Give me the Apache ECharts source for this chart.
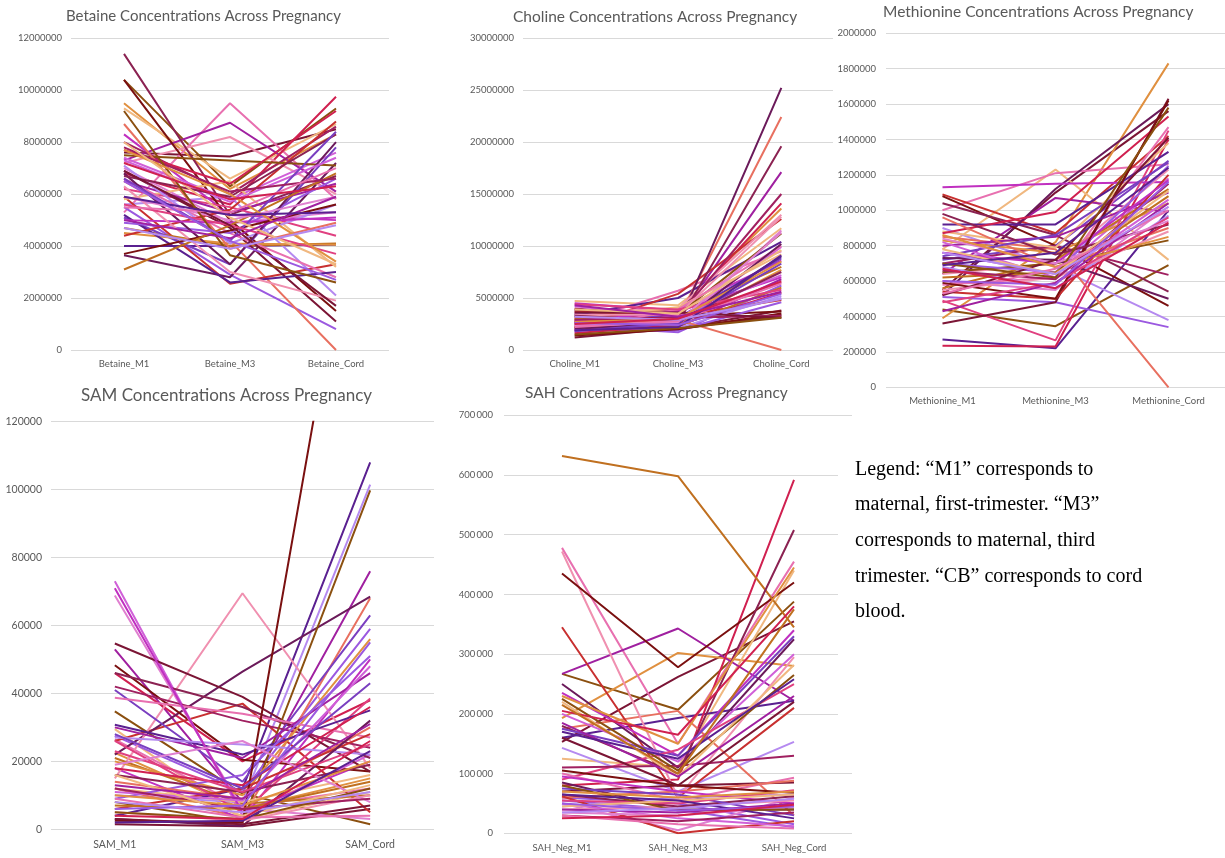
<!DOCTYPE html>
<html><head><meta charset="utf-8">
<script src="https://cdn.jsdelivr.net/npm/echarts@6/dist/echarts.min.js"></script>
<style>html,body{margin:0;padding:0;background:#fff}#c{width:1225px;height:858px}</style>
</head><body><div id="c"></div>
<script>
// line colours, row r of every panel uses palette[r % palette.length]
const palette = ['#7B1535','#8B5010','#E09040','#F0B880','#E870B0','#A020A0','#5A2090','#9B59E0','#B58AF0','#D02050','#E87060','#C83030','#6B1A5A','#C030C0','#F090B0','#7A1010','#D060D8','#C07020','#8B2252','#7A3FC0','#E04080','#E080D0','#A02060'];

const betaineCategories = ['Betaine_M1','Betaine_M3','Betaine_Cord'];
const betaineValues = [
[7.6e6,7.45e6,8.5e6],[10.4e6,6.3e6,9.3e6],[9.5e6,6.2e6,8.3e6],[9.3e6,6.6e6,8.7e6],[5.3e6,9.5e6,5.8e6],
[7.3e6,8.75e6,6.1e6],[4.0e6,4.0e6,4.05e6],[5.5e6,2.9e6,0.8e6],[5.6e6,5.9e6,2.1e6],[6.8e6,5.6e6,9.75e6],
[6.5e6,4.2e6,0],[5.9e6,2.55e6,3.3e6],[3.65e6,2.8e6,7.2e6],[8.3e6,5.2e6,5.0e6],[7.2e6,8.2e6,6.0e6],
[10.4e6,5.0e6,1.5e6],[7.4e6,5.8e6,7.6e6],[4.7e6,4.0e6,4.1e6],[11.4e6,5.2e6,6.7e6],[5.1e6,3.3e6,7.8e6],
[6.2e6,5.5e6,4.4e6],[7.0e6,4.9e6,5.3e6],[8.0e6,6.0e6,8.6e6],[6.9e6,4.7e6,1.1e6],[7.5e6,7.3e6,7.1e6],
[4.5e6,4.1e6,4.05e6],[5.8e6,6.5e6,3.2e6],[6.6e6,4.5e6,2.8e6],[6.5e6,5.3e6,6.4e6],[5.2e6,2.6e6,3.0e6],
[4.9e6,4.5e6,6.6e6],[7.1e6,4.1e6,5.6e6],[7.7e6,6.4e6,9.2e6],[8.7e6,3.9e6,4.9e6],[4.4e6,5.4e6,8.8e6],
[6.8e6,3.3e6,8.0e6],[5.0e6,4.9e6,5.1e6],[6.3e6,3.0e6,1.9e6],[3.7e6,4.6e6,5.6e6],[7.3e6,5.7e6,7.4e6],
[3.1e6,4.8e6,6.8e6],[6.7e6,5.9e6,8.3e6],[6.6e6,4.2e6,8.4e6],[5.6e6,4.8e6,3.7e6],[5.9e6,5.0e6,5.9e6],
[7.8e6,6.1e6,6.6e6],[6.9e6,4.8e6,1.7e6],[9.2e6,3.65e6,2.6e6],[7.7e6,6.0e6,3.4e6],[8.0e6,5.1e6,3.3e6],
[5.5e6,5.3e6,7.0e6],[5.0e6,4.3e6,5.9e6],[5.9e6,5.2e6,5.3e6],[6.5e6,4.2e6,2.7e6],[4.7e6,3.9e6,4.8e6],
[7.2e6,5.8e6,6.3e6]
];

const cholineCategories = ['Choline_M1','Choline_M3','Choline_Cord'];
const cholineValues = [
[1.2e6,2.1e6,3.8e6],[2.8e6,2.2e6,3.2e6],[3.3e6,3.9e6,13.6e6],[4.7e6,4.3e6,11.7e6],[2.6e6,5.7e6,9.5e6],
[3.5e6,3.0e6,17.1e6],[3.4e6,5.0e6,10.4e6],[2.3e6,1.7e6,6.2e6],[2.0e6,2.5e6,5.0e6],[3.0e6,3.5e6,14.1e6],
[1.9e6,3.0e6,22.4e6],[2.1e6,5.4e6,12.6e6],[2.2e6,2.4e6,25.2e6],[4.5e6,3.8e6,8.6e6],[3.6e6,4.0e6,13.0e6],
[2.5e6,3.3e6,3.7e6],[1.8e6,2.8e6,9.9e6],[2.9e6,3.6e6,8.0e6],[2.0e6,2.6e6,19.6e6],[3.8e6,3.1e6,8.8e6],
[2.4e6,2.9e6,6.5e6],[1.7e6,2.3e6,11.5e6],[4.0e6,3.2e6,15.0e6],[2.7e6,2.0e6,3.4e6],[3.9e6,3.4e6,11.2e6],
[2.2e6,2.5e6,7.7e6],[3.1e6,4.1e6,9.2e6],[2.0e6,3.9e6,10.0e6],[2.6e6,2.2e6,6.8e6],[3.2e6,2.7e6,9.0e6],
[1.9e6,1.9e6,4.6e6],[2.5e6,2.1e6,5.2e6],[1.6e6,2.4e6,5.5e6],[2.3e6,2.9e6,0],[3.7e6,3.3e6,4.8e6],
[2.1e6,2.5e6,10.2e6],[2.8e6,3.7e6,7.0e6],[3.4e6,3.4e6,12.8e6],[1.4e6,2.0e6,3.5e6],[4.2e6,3.2e6,7.2e6],
[3.0e6,2.3e6,6.0e6],[3.3e6,2.8e6,7.5e6],[1.8e6,2.6e6,8.3e6],[4.4e6,3.9e6,5.8e6],[2.4e6,2.7e6,11.3e6],
[2.9e6,3.1e6,3.3e6],[3.6e6,3.6e6,3.1e6],[1.5e6,2.1e6,3.1e6],[2.7e6,3.0e6,8.5e6],[3.9e6,3.5e6,9.6e6],
[2.2e6,2.8e6,6.4e6],[4.3e6,3.2e6,5.6e6],[1.9e6,2.2e6,9.1e6],[2.6e6,2.4e6,5.4e6],[3.2e6,2.9e6,4.9e6],
[2.5e6,3.0e6,6.6e6]
];

const methionineCategories = ['Methionine_M1','Methionine_M3','Methionine_Cord'];
const methionineValues = [
[550e3,1100e3,1560e3],[440e3,345e3,690e3],[390e3,820e3,1830e3],[780e3,1230e3,720e3],[1000e3,1210e3,1260e3],
[640e3,1070e3,990e3],[270e3,220e3,1000e3],[510e3,480e3,340e3],[900e3,680e3,380e3],[235e3,230e3,1400e3],
[850e3,780e3,0],[1090e3,870e3,1420e3],[520e3,1120e3,1600e3],[1130e3,1150e3,1160e3],[640e3,700e3,1230e3],
[1080e3,800e3,460e3],[760e3,640e3,1180e3],[560e3,720e3,1120e3],[1040e3,860e3,540e3],[720e3,800e3,1280e3],
[490e3,265e3,1450e3],[600e3,550e3,1020e3],[700e3,800e3,635e3],[360e3,480e3,1630e3],[650e3,700e3,830e3],
[830e3,760e3,1040e3],[880e3,790e3,1380e3],[580e3,620e3,1470e3],[800e3,850e3,1100e3],[920e3,920e3,1330e3],
[700e3,650e3,1250e3],[680e3,560e3,970e3],[870e3,990e3,1530e3],[960e3,680e3,900e3],[540e3,500e3,1200e3],
[730e3,720e3,500e3],[760e3,700e3,1170e3],[550e3,620e3,880e3],[590e3,500e3,1620e3],[820e3,620e3,1060e3],
[620e3,650e3,1080e3],[980e3,750e3,920e3],[740e3,860e3,1270e3],[480e3,590e3,960e3],[840e3,700e3,940e3],
[660e3,610e3,1150e3],[520e3,720e3,1410e3],[700e3,620e3,1580e3],[860e3,680e3,850e3],[780e3,640e3,1110e3],
[530e3,670e3,1000e3],[430e3,590e3,1040e3],[690e3,760e3,1240e3],[600e3,580e3,1160e3],[760e3,640e3,1020e3],
[670e3,560e3,930e3]
];

const samCategories = ['SAM_M1','SAM_M3','SAM_Cord'];
const samValues = [
[1500,900,6000],[34700,10500,1500],[22500,6000,15000],[29500,3000,11000],[26500,6500,12000],
[53000,8000,76000],[4000,12000,108000],[27500,11000,59000],[10000,8000,101500],[46000,20000,38000],
[12000,3500,68000],[26000,37000,5000],[22000,46400,68500],[18000,3000,50000],[15000,69500,18000],
[48300,20500,17000],[73000,4000,22000],[21000,7500,10000],[46000,36000,21000],[41000,14000,63000],
[26000,5000,38500],[68800,6000,3000],[42000,32000,24000],[54700,39000,17000],[8000,2000,99800],
[20000,10000,56000],[12000,8000,16000],[38700,34000,27000],[30000,21000,46000],[30800,22000,35000],
[9000,16000,51000],[27000,25000,22000],[18000,13000,36000],[14000,9000,30000],[6000,12000,28000],
[3000,1000,32000],[71000,5000,20000],[5000,2500,10000],[2500,2000,215000],[11000,8500,48000],
[7000,6000,14000],[16000,11000,19000],[28000,12000,43000],[23000,11000,25000],[19000,26000,8000],
[12000,6000,9000],[3000,1500,7000],[5000,3000,12000],[10000,7000,20000],[16000,4000,13000],
[9000,3500,4000],[13000,9000,31000],[2000,2500,23000],[6000,7000,55000],[8000,5000,11000],
[4000,3000,26000]
];

const sahCategories = ['SAH_Neg_M1','SAH_Neg_M3','SAH_Neg_Cord'];
const sahValues = [
[153000,262000,355000],[267000,207000,388000],[193000,302000,280000],[125000,110000,440000],[478000,150000,455000],
[267000,343000,222000],[160000,193000,222000],[60000,50000,15000],[143000,70000,153000],[80000,90000,592000],
[175000,205000,30000],[345000,60000,210000],[250000,110000,325000],[235000,130000,340000],[472000,60000,295000],
[435000,278000,420000],[200000,120000,300000],[632000,598000,345000],[180000,100000,508000],[175000,130000,330000],
[90000,140000,250000],[50000,5000,60000],[110000,113000,130000],[70000,80000,85000],[225000,105000,265000],
[230000,150000,445000],[220000,95000,282000],[100000,55000,93000],[185000,95000,230000],[170000,125000,258000],
[55000,40000,10000],[45000,60000,65000],[205000,165000,380000],[60000,70000,88000],[62000,0,20000],
[85000,40000,40000],[95000,70000,50000],[40000,45000,55000],[105000,80000,68000],[50000,25000,12000],
[215000,100000,375000],[65000,45000,62000],[75000,65000,30000],[55000,50000,72000],[35000,30000,45000],
[30000,20000,35000],[160000,80000,220000],[80000,38000,40000],[70000,60000,70000],[45000,55000,65000],
[30000,15000,8000],[40000,35000,50000],[65000,55000,25000],[50000,38000,45000],[35000,42000,58000],
[25000,30000,48000]
];

const legendLines = ['Legend: \u201CM1\u201D corresponds to','maternal, first-trimester. \u201CM3\u201D','corresponds to maternal, third','trimester. \u201CCB\u201D corresponds to cord','blood.'];

const FONT = 'Lato, "Noto Sans", sans-serif';
const TXT = '#595959';
const plain = v => String(v);
const spaced = v => { const s = String(v); return s.length > 3 ? s.slice(0, -3) + '\u2009' + s.slice(-3) : s; };

const panels = [
  {title:'Betaine Concentrations Across Pregnancy', cats:betaineCategories, rows:betaineValues, max:12000000, interval:2000000,
   grid:{left:71,top:38.3,width:318,height:311.7}, tpos:{left:66,top:8.5}, tsize:15, lsize:9.5, xm:9, ym:9, fmt:plain},
  {title:'Choline Concentrations Across Pregnancy', cats:cholineCategories, rows:cholineValues, max:30000000, interval:5000000,
   grid:{left:523,top:38,width:310,height:312}, tpos:{left:513,top:8.5}, tsize:15.5, lsize:9.5, xm:9, ym:9, fmt:plain},
  {title:'Methionine Concentrations Across Pregnancy', cats:methionineCategories, rows:methionineValues, max:2000000, interval:200000,
   grid:{left:886,top:33.3,width:343,height:354}, tpos:{left:883,top:3.5}, tsize:15.5, lsize:9.5, xm:9, ym:10, fmt:plain},
  {title:'SAM Concentrations Across Pregnancy', cats:samCategories, rows:samValues, max:120000, interval:20000,
   grid:{left:51,top:421.7,width:383,height:407.6}, tpos:{left:81,top:387.5}, tsize:17, lsize:10.5, xm:10, ym:9, fmt:plain},
  {title:'SAH Concentrations Across Pregnancy', cats:sahCategories, rows:sahValues, max:700000, interval:100000,
   grid:{left:504,top:415.3,width:348,height:418}, tpos:{left:525,top:385}, tsize:15.5, lsize:9.5, xm:10, ym:11, fmt:spaced}
];

const option = {animation:false, backgroundColor:'#fff', title:[], grid:[], xAxis:[], yAxis:[], series:[], graphic:[]};
panels.forEach((p, i) => {
  option.title.push({text:p.title, left:p.tpos.left, top:p.tpos.top, padding:0, textStyle:{color:TXT, fontFamily:FONT, fontWeight:'normal', fontSize:p.tsize}});
  option.grid.push(Object.assign({containLabel:false}, p.grid));
  option.xAxis.push({type:'category', gridIndex:i, data:p.cats, boundaryGap:true,
    axisLine:{show:false}, axisTick:{show:false}, splitLine:{show:false},
    axisLabel:{color:TXT, fontFamily:FONT, fontSize:p.lsize, margin:p.xm, interval:0}});
  option.yAxis.push({type:'value', gridIndex:i, min:0, max:p.max, interval:p.interval,
    axisLine:{show:false}, axisTick:{show:false},
    splitLine:{lineStyle:{color:'#d9d9d9', width:1}},
    axisLabel:{color:TXT, fontFamily:FONT, fontSize:p.lsize, margin:p.ym, formatter:p.fmt}});
  p.rows.forEach((r, j) => {
    option.series.push({type:'line', xAxisIndex:i, yAxisIndex:i, data:r, showSymbol:false, silent:true, clip:true,
      color:palette[j % palette.length], lineStyle:{width:2, color:palette[j % palette.length]}});
  });
});

option.graphic.push({type:'rect', left:838, top:436, shape:{width:387, height:306}, style:{fill:'#fff'}, z:100});
legendLines.forEach((t, k) => {
  option.graphic.push({type:'text', left:855, top:459.5 + k*35.6, z:101,
    style:{text:t, fill:'#000', font:'20px "Liberation Serif", "Times New Roman", serif'}});
});

const chart = echarts.init(document.getElementById('c'), null, {renderer:'canvas'});
chart.setOption(option);
</script></body></html>
